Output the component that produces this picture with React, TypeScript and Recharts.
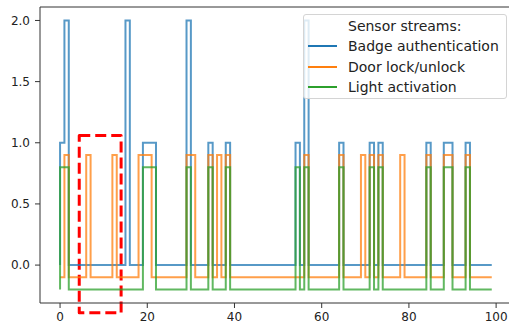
import { LineChart, Line, XAxis, YAxis, ReferenceLine, ReferenceArea } from 'recharts';

// sensor state per time step (0..99)
const badgeState = [
  0, 1, 2, 0, 0, 0, 0, 0, 0, 0,
  0, 0, 0, 0, 0, 0, 2, 0, 0, 0,
  1, 1, 1, 0, 0, 0, 0, 0, 0, 0,
  2, 0, 0, 0, 0, 1, 0, 0, 0, 1,
  0, 0, 0, 0, 0, 0, 0, 0, 0, 0,
  0, 0, 0, 0, 0, 1, 0, 2, 0, 0,
  0, 0, 0, 0, 0, 1, 0, 0, 0, 0,
  0, 0, 1, 0, 1, 0, 0, 0, 0, 0,
  0, 0, 0, 0, 0, 1, 0, 0, 0, 1,
  1, 0, 0, 0, 1, 0, 0, 0, 0, 0,
];
const doorState = [
  0, 0, 1, 0, 0, 0, 0, 1, 0, 0,
  0, 0, 0, 1, 0, 0, 0, 0, 0, 1,
  1, 1, 0, 0, 0, 0, 0, 0, 0, 0,
  1, 1, 0, 0, 0, 1, 0, 1, 0, 1,
  0, 0, 0, 0, 0, 0, 0, 0, 0, 0,
  0, 0, 0, 0, 0, 0, 0, 1, 0, 0,
  0, 0, 0, 0, 0, 1, 0, 0, 0, 0,
  1, 0, 1, 0, 1, 0, 0, 0, 0, 1,
  0, 0, 0, 0, 0, 1, 0, 0, 0, 1,
  1, 0, 0, 0, 1, 0, 0, 0, 0, 0,
];
const lightState = [
  0, 1, 1, 0, 0, 0, 0, 0, 0, 0,
  0, 0, 0, 0, 0, 0, 0, 0, 0, 0,
  1, 1, 1, 0, 0, 0, 0, 0, 0, 0,
  1, 0, 0, 0, 0, 1, 0, 0, 0, 1,
  0, 0, 0, 0, 0, 0, 0, 0, 0, 0,
  0, 0, 0, 0, 0, 1, 0, 1, 0, 0,
  0, 0, 0, 0, 0, 1, 0, 0, 0, 0,
  0, 0, 1, 0, 1, 0, 0, 0, 0, 0,
  0, 0, 0, 0, 0, 1, 0, 0, 0, 1,
  1, 0, 0, 0, 1, 0, 0, 0, 0, 0,
];
const doorOffset = -0.1;
const lightOffset = -0.2;

const seriesNames = ['Badge authentication', 'Door lock/unlock', 'Light activation'];
const seriesColors = ['#1f77b4', '#ff7f0e', '#2ca02c'];
const legendTitle = 'Sensor streams:';
const xTicks = [0, 20, 40, 60, 80, 100];
const yTicks = [0, 0.5, 1, 1.5, 2];
// dashed highlight window
const highlight = { x1: 4.4, x2: 14, y1: -0.39, y2: 1.06 };

const data = badgeState.map((b, t) => ({
  t,
  badge: b,
  door: doorState[t] + doorOffset,
  light: lightState[t] + lightOffset,
}));

const font = '"DejaVu Sans", sans-serif';
const axisColor = '#333';
const Y_MAX = 2.11;

function SensorLegend() {
  const rowH = 20.7;
  return (
    <div
      style={{
        position: 'absolute', left: 303, top: 14, width: 204, height: 85,
        boxSizing: 'border-box', border: '1px solid #d4d4d4', borderRadius: 3,
        background: 'rgba(255,255,255,0.8)', fontFamily: font, fontSize: 14, color: '#222',
      }}
    >
      <div style={{ position: 'absolute', left: 44, top: 11 - 10, height: 20, lineHeight: '20px', whiteSpace: 'nowrap' }}>
        {legendTitle}
      </div>
      {seriesNames.map((name, i) => {
        const cy = 31 + i * rowH;
        return (
          <div key={name} style={{ position: 'absolute', left: 0, top: cy - 10, height: 20, width: '100%' }}>
            <svg width={40} height={20} style={{ position: 'absolute', left: 0, top: 0 }}>
              <line x1={4} x2={33} y1={10} y2={10} stroke={seriesColors[i]} strokeWidth={2} />
            </svg>
            <span style={{ position: 'absolute', left: 44, top: 0, lineHeight: '20px', whiteSpace: 'nowrap' }}>{name}</span>
          </div>
        );
      })}
    </div>
  );
}

export default function App() {
  return (
    <div style={{ position: 'absolute', left: 0, top: 0, width: 509, height: 331, overflow: 'hidden', background: '#fff' }}>
      <LineChart width={520} height={331} data={data} margin={{ top: 7, right: 6, bottom: 0, left: 0 }}>
        <XAxis
          dataKey="t"
          type="number"
          domain={[-4.6, 104.1]}
          ticks={xTicks}
          allowDataOverflow
          height={28}
          tickSize={5}
          tickMargin={4}
          axisLine={{ stroke: axisColor }}
          tickLine={{ stroke: axisColor }}
          tick={{ fill: '#222', fontSize: 12, fontFamily: font }}
        />
        <YAxis
          type="number"
          domain={[-0.31, Y_MAX]}
          ticks={yTicks}
          allowDataOverflow
          width={40}
          tickSize={5}
          tickMargin={5}
          tickFormatter={(v: number) => v.toFixed(1)}
          axisLine={{ stroke: axisColor }}
          tickLine={{ stroke: axisColor }}
          tick={{ fill: '#222', fontSize: 12, fontFamily: font }}
        />
        <ReferenceLine y={Y_MAX} stroke={axisColor} />
        <Line type="stepBefore" dataKey="badge" stroke={seriesColors[0]} strokeOpacity={0.75} strokeWidth={2} dot={false} isAnimationActive={false} />
        <Line type="stepBefore" dataKey="door" stroke={seriesColors[1]} strokeOpacity={0.75} strokeWidth={2} dot={false} isAnimationActive={false} />
        <Line type="stepBefore" dataKey="light" stroke={seriesColors[2]} strokeOpacity={0.75} strokeWidth={2} dot={false} isAnimationActive={false} />
        <ReferenceArea
          x1={highlight.x1}
          x2={highlight.x2}
          y1={highlight.y1}
          y2={highlight.y2}
          ifOverflow="visible"
          fill="none"
          stroke="#ff0000"
          strokeWidth={3}
          strokeDasharray="11 5"
          strokeLinejoin="round"
        />
      </LineChart>
      <SensorLegend />
    </div>
  );
}
